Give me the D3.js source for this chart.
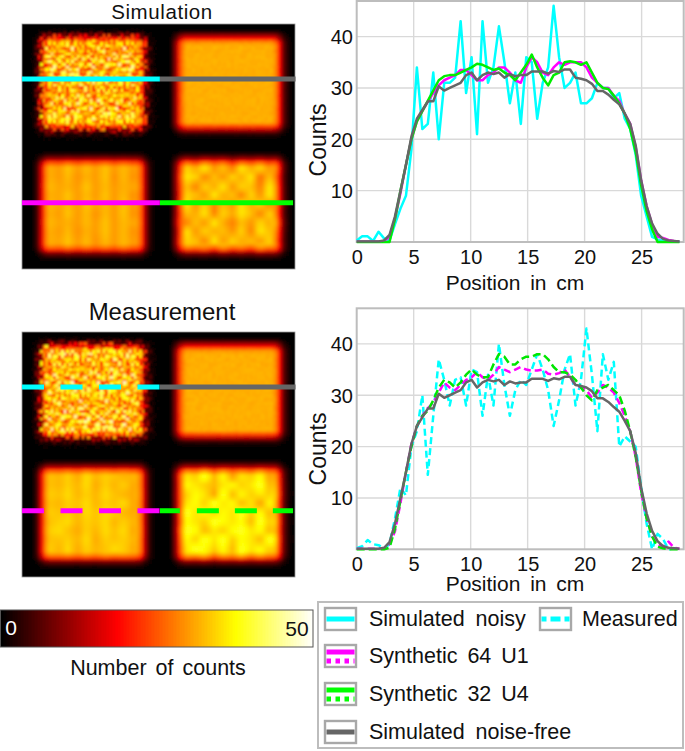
<!DOCTYPE html>
<html><head><meta charset="utf-8">
<script src="https://cdn.jsdelivr.net/npm/d3@7/dist/d3.min.js"></script>
<style>html,body{margin:0;padding:0;background:#fff}svg{display:block}text{font-family:"Liberation Sans",Arial,sans-serif;fill:#111}</style>
</head><body><svg id="c" width="685" height="751"></svg>
<script>
const positions=[0,.48,.96,1.44,1.92,2.4,2.88,3.36,3.84,4.32,
4.8,5.28,5.76,6.24,6.72,7.2,7.68,8.16,8.64,9.12,
9.6,10.08,10.56,11.04,11.52,12,12.48,12.96,13.44,13.92,
14.4,14.88,15.36,15.84,16.32,16.8,17.28,17.76,18.24,18.72,
19.2,19.68,20.16,20.64,21.12,21.6,22.08,22.56,23.04,23.52,
24,24.48,24.96,25.44,25.92,26.4,26.88,27.36,27.84,28.32];
const noiseFree=[.1,.1,.1,.1,.1,.3,1.4,5,10,15,
20.5,24,25.7,27.4,27.4,30.3,29.5,30,30.5,31,
32.5,33,31.5,32.5,33,32.7,33,32,32.7,32.3,
32.5,32.5,33.2,33.2,33.2,32.8,33.3,33.1,33.6,33.6,
32,31.8,31.5,30.8,29.4,29.4,28.7,27.7,26.8,25,
23,18.8,12,7,3.6,1.6,.6,.3,.2,.1];
const simNoisy=[.3,1.1,1.1,.2,2,.7,.3,3.5,6.5,9,
18,34,22,23,33,20,31,31,32,43,
29,36,21,43,31,34,42,35,27,33,
23,36,35,24,31,34,46,36,30,31,
33,27,27,28,31,30,30,28,29,24,
22,17,9,5,1,.5,.3,.2,.1,.1];
const simU1=[.1,.1,.1,.1,.1,.2,1,4.5,9.5,15,
20,23.5,25.5,27.3,29,30.5,31.5,32,32.5,33.5,
33.5,32.5,31.5,31.5,32.5,33,34,34,33,31.5,
31,34,36,35,33,32.5,34,35,34.5,35,
35,35,34,32,31,30,30,28.5,27.5,25,
23,18.5,12,7,3.5,1,.8,.4,.2,.1];
const simU4=[0,0,0,0,0,0,0,4.5,10,15,
20,23.5,25.5,27.5,29.5,31.5,32.3,32.5,32.5,33,
33.5,34,34.7,34.5,34,33.5,33.8,33,32.5,31.5,
33,34.5,36.5,34,32,30.5,32.5,33,35,35.2,
35,34.5,35,33,31,30,29.8,28.5,27,25,
22,17.5,11,6,2.5,0,0,0,0,0];
const measNoisy=[.2,.6,1.8,1,.8,.2,1,6,12,10.5,
20,23,30,14.5,26,37,33,28,33,33.5,
28,35,34.5,26,34,28,40,32,26,31,
33,32,35,38,35,31,24,29,35,38,
28,33,43,34,23,38,33,36.5,20,22,
21,20,12,5,0,3,2,0,.2,.1];
const measU1=[.1,.1,.1,.1,.1,.2,1,3.5,9,15,
20.5,24,26,27.5,28.5,30.5,32.5,31.5,31,32,
33,33.5,34.5,33.5,33,34,35.5,35,34.5,35,
35.5,35,34.8,34.8,35,34.2,34,34.3,35,33.5,
32,31.5,31,29.5,30.5,32,31.5,30.5,28.5,26,
23,18,11,6,2.5,1,.5,1.5,.3,.1];
const measU4=[0,0,0,0,0,0,.3,4,9.5,15,
20,24,26,27,29,31.5,33,32.5,31.5,32.5,
34,35,34,33.5,33.5,36,38,37.5,36,36,
37,37.5,37.5,38,38,37,35.5,34.5,34.5,34,
33,31.5,30,29,31,31.5,32,31,30,27,
23,18,11.5,6,2.5,.5,.2,0,0,0];
const xTicks=[0,5,10,15,20,25];
const yTicks=[10,20,30,40];
const legendLabels=["Simulated noisy","Measured","Synthetic 64 U1","Synthetic 32 U4","Simulated noise-free"];
const colorStops=[0,18.5,37.5,50];
const colorRange=["#000000","#ff0000","#ffff00","#ffffff"];
const speckle=[
"729105836417290563812947056381",
"381964205783149620857314962075",
"562738914063857291406385729140",
"904152678392016574283960157428",
"276843019526748301956274830195",
"638095172484936027518493602751",
"117462938057162849305716284930",
"849230567193405768129340576812",
"305918726640281597364028159736",
"482067351928576103892857610389",
"796314085261943827050194382705",
"023589164737210496658721049665",
"658142703996835710242683571024",
"371906852414079265837407926583",
"940273618585326109470532610947",
"215864097331680472959168047295",
"687350921442917538060291753806",
"136029475878453016928845301692",
"594718260306274985137627498513",
"802453196769130842675913084267",
"467190832525608371949560837194",
"359826074194782506310278250631",
"718034569263415927486341592748",
"240675198380963154729096315472",
"893241706552037681946203768194",
"165908347216849230578684923057",
"527386014993172405681317240568",
"034719285648520973164852097316",
"986150372401396748205396748205",
"413862957135764081396076408139"];
const texSimU1=["453736473635","464847484746","364736483736","475648474657","365847484736","475748574847","364847374836","475647484757","364736484736","465847374746","453736363735"];
const texSimU4=["463857264738","375846385746","587364758263","463758476385","376485637485","584736485736","465837586374","736485364758","384756473865","576384756473","465738463857"];
const texMeasU1=["454647564745","565748576556","465758475746","576857586547","465768576846","576758687546","467857685756","578647586847","466758476756","575847568746","455646475655"];
const texMeasU4=["465847564756","576958476846","487657867957","568749586768","478697857486","597868796857","487698785968","698576897857","586979687598","479868597867","576847685756"];
const heatPanels=[
 {box:[22,24,273,245],rows:[{level:31.5,tex:null,amp:1},{level:31.5,tex:null,amp:.003},{level:31.2,tex:texSimU1,amp:.025},{level:32,tex:texSimU4,amp:.05}]},
 {box:[22,332,273,245],rows:[{level:32,tex:null,amp:1},{level:31.5,tex:null,amp:.003},{level:32.5,tex:texMeasU1,amp:.03},{level:33,tex:texMeasU4,amp:.055}]}
];
const simBars=[{y:.2245,c:"#00ffff",k:"#666666",d:false},{y:.73,c:"#ff00ff",k:"#00ff00",d:false}];
const measBars=[{y:.2245,c:"#00ffff",k:"#666666",d:true},{y:.73,c:"#ff00ff",k:"#00ff00",d:true}];

const svg=d3.select("#c");
const defs=svg.append("defs");
function blur(id,s){defs.append("filter").attr("id",id).attr("x","-5%").attr("y","-5%").attr("width","110%").attr("height","110%").append("feGaussianBlur").attr("stdDeviation",s);}
blur("soft",.8);blur("softer",1.5);blur("lineSoft",.35);

const hot=d3.scaleLinear().domain(colorStops).range(colorRange).clamp(true);
const prof=d3.scaleLinear().domain(positions).range(noiseFree).clamp(true);
const edge=u=>Math.min(1,prof(u)/26);
const CELL=2.6;
heatPanels.forEach((hp,hi)=>{
 const [bx,by,bw,bh]=hp.box;
 const clipId="clip"+hi;
 defs.append("clipPath").attr("id",clipId).append("rect").attr("x",bx).attr("y",by).attr("width",bw).attr("height",bh);
 const wrap=svg.append("g").attr("clip-path",`url(#${clipId})`);
 wrap.append("rect").attr("x",bx).attr("y",by).attr("width",bw).attr("height",bh).attr("fill","#000");
 const xs=d3.scaleLinear().domain([0,1]).range([bx,bx+bw]);
 const ys=d3.scaleLinear().domain([0,1]).range([by,by+bh]);
 const pw=bw/2, ph=bh/2;
 hp.rows.forEach((p,pi)=>{
  const cells=[];
  const nx=Math.ceil(pw/CELL), ny=Math.ceil(ph/CELL);
  for(let j=0;j<ny;j++)for(let i=0;i<nx;i++){
   const px=(i+.5)*CELL, py=(j+.5)*CELL;
   const u=14.5+(px-70.5)/4.95, v=14.5+(py-59)/4.4;
   const env=edge(u)*edge(v);
   const r=(j+hi*13+pi*7), c=(i+hi*17+pi*11);
   const d1=+speckle[r%30][c%30], d2=+speckle[(r*7+c*3+5)%30][(c*11+r+2)%30];
   const sum=d1+d2;
   let f;
   if(p.tex){
    const tx=Math.max(0,Math.min(10.999,(u-4)/20.5*11)), ty=Math.max(0,Math.min(9.999,(v-4)/20.5*10));
    const ix=Math.floor(tx), iy=Math.floor(ty), ax=tx-ix, ay=ty-iy;
    const t=(+p.tex[iy][ix])*(1-ax)*(1-ay)+(+p.tex[iy][ix+1])*ax*(1-ay)+(+p.tex[iy+1][ix])*(1-ax)*ay+(+p.tex[iy+1][ix+1])*ax*ay;
    f=1+(t-5.5)*p.amp;
   } else f=1+(sum-9)*(p.amp===1?.052:p.amp);
   let h=1;
   if(p.amp===1&&env<.55) h=d1>6?1.6:.7;
   cells.push({x:bx+pi%2*pw+i*CELL,y:by+(pi>1?ph:0)+j*CELL,v:p.level*env*f*h});
  }
  const g=wrap.append("g").attr("filter",p.amp===1?"url(#soft)":"url(#softer)");
  g.selectAll("rect").data(cells).join("rect")
   .attr("x",d=>d.x).attr("y",d=>d.y).attr("width",CELL+.4).attr("height",CELL+.4)
   .attr("shape-rendering","crispEdges").attr("fill",d=>hot(d.v));
 });
 svg.append("rect").attr("x",bx).attr("y",by).attr("width",bw).attr("height",bh).attr("fill","none").attr("stroke","#999").attr("stroke-width",.8);
 const bars=hi===0?simBars:measBars;
 bars.forEach((b,bi)=>{
  const gb=svg.append("g");
  const yy=ys(b.y);
  const mid=xs(.505);
  gb.append("line").attr("x1",mid).attr("x2",xs(bi?0.993:1.002)).attr("y1",yy).attr("y2",yy).attr("stroke",b.k).attr("stroke-width",5)
    .attr("stroke-dasharray",b.d&&bi===1?"20 17 22 16 22 16 22":null);
  gb.append("line").attr("x1",xs(0)).attr("x2",mid).attr("y1",yy).attr("y2",yy).attr("stroke",b.c).attr("stroke-width",5)
    .attr("stroke-dasharray",b.d?"22 16.5":null);
 });
});

function plot(y0,labelC,series){
 const x=d3.scaleLinear().domain([0,28.72]).range([356.7,684]);
 const y=d3.scaleLinear().domain([0,10]).range([y0,y0-51.35]);
 const g=svg.append("g");
 const topY=y0-241;
 const grid=g.append("g").attr("filter","url(#lineSoft)");
 grid.selectAll("line.v").data(xTicks.slice(1)).join("line").attr("x1",x).attr("x2",x).attr("y1",topY).attr("y2",y0).attr("stroke","#d9d9d9").attr("stroke-width",1.4);
 grid.selectAll("line.h").data(yTicks).join("line").attr("y1",y).attr("y2",y).attr("x1",356.7).attr("x2",683).attr("stroke","#d9d9d9").attr("stroke-width",1.4);
 g.append("rect").attr("x",356.7).attr("y",topY).attr("width",327).attr("height",241).attr("fill","none").attr("stroke","#bdbdbd").attr("stroke-width",2);
 const ln=d3.line().x((d,i)=>x(positions[i])).y(d=>y(d));
 const lg=g.append("g").attr("filter","url(#lineSoft)");
 series.forEach(s=>{
  lg.append("path").datum(s.v).attr("d",ln).attr("fill","none").attr("stroke",s.c).attr("stroke-width",s.w||2.5)
   .attr("stroke-linejoin","round").attr("stroke-dasharray",s.d||null);
 });
 const ax=d3.axisBottom(x).tickValues(xTicks).tickSize(0).tickPadding(0);
 const axg=g.append("g").attr("transform",`translate(0,${y0})`).call(ax);
 axg.select(".domain").remove();
 axg.selectAll("text").attr("font-size",20).attr("dy",null).attr("y",22);
 const ay=d3.axisLeft(y).tickValues(yTicks).tickSize(0).tickPadding(0);
 const ayg=g.append("g").attr("transform","translate(353,0)").call(ay);
 ayg.select(".domain").remove();
 ayg.selectAll("text").attr("font-size",20).attr("dy","0.35em");
 g.append("text").attr("transform",`translate(326,${labelC}) rotate(-90)`).attr("text-anchor","middle").attr("font-size",23).text("Counts");
}
plot(242,140,[{v:simNoisy,c:"#00ffff"},{v:simU1,c:"#ff00ff"},{v:simU4,c:"#00ee00"},{v:noiseFree,c:"#666666"}]);
plot(549.3,449,[{v:measNoisy,c:"#00ffff",d:"7 4"},{v:measU1,c:"#ff00ff",d:"7 4"},{v:measU4,c:"#00e600",d:"8 4"},{v:noiseFree,c:"#666666"}]);

const T=(x,y,s,fs,a,ws)=>svg.append("text").attr("x",x).attr("y",y).attr("font-size",fs).attr("text-anchor",a||"start").attr("word-spacing",ws||0).text(s);
T(162,18.5,"Simulation",20.5,"middle").attr("letter-spacing",.6);
T(162,320,"Measurement",24,"middle");
T(515,290,"Position in cm",21,"middle",4);
T(515,591,"Position in cm",21,"middle",4);

const cbX=d3.scaleLinear().domain([0,50]).range([1,313]);
svg.append("g").selectAll("rect").data(d3.range(0,50,.25)).join("rect")
 .attr("x",d=>cbX(d)).attr("y",610).attr("width",d=>cbX(.25)-cbX(0)+1).attr("height",37)
 .attr("shape-rendering","crispEdges").attr("fill",d=>hot(d));
svg.append("rect").attr("x",.5).attr("y",610).attr("width",312.5).attr("height",37).attr("fill","none").attr("stroke","#555").attr("stroke-width",1);
T(11,635,"0",21,"middle").style("fill","#fff");
T(297,636,"50",21,"middle");
T(158,675,"Number of counts",21.5,"middle",3);

svg.append("rect").attr("x",318).attr("y",602).attr("width",365).attr("height",146).attr("fill","#fff").attr("stroke","#bdbdbd").attr("stroke-width",2);
const legendRows=[
 {x:325,y:608,c:"#00ffff",t:0,kind:"solid",tx:369},
 {x:540,y:608,c:"#00ffff",t:1,kind:"dash",tx:582},
 {x:325,y:645,c:"#ff00ff",t:2,kind:"dual",tx:369},
 {x:325,y:683,c:"#00ff00",t:3,kind:"dual",tx:369},
 {x:325,y:721,c:"#666666",t:4,kind:"solid",tx:369}];
legendRows.forEach(r=>{
 const g=svg.append("g");
 g.append("rect").attr("x",r.x).attr("y",r.y).attr("width",31).attr("height",22).attr("fill","#fff").attr("stroke","#a8a8a8").attr("stroke-width",2.4);
 const lx1=r.x+1.5,lx2=r.x+29.5;
 if(r.kind==="solid"||r.kind==="dash"){
  g.append("line").attr("x1",lx1).attr("x2",lx2).attr("y1",r.y+11).attr("y2",r.y+11).attr("stroke",r.c).attr("stroke-width",5).attr("stroke-dasharray",r.kind==="dash"?"5 4 10 4 5":null);
 } else {
  g.append("line").attr("x1",lx1).attr("x2",lx2).attr("y1",r.y+7).attr("y2",r.y+7).attr("stroke",r.c).attr("stroke-width",5);
  g.append("line").attr("x1",lx1).attr("x2",lx2).attr("y1",r.y+16).attr("y2",r.y+16).attr("stroke",r.c).attr("stroke-width",5).attr("stroke-dasharray","4.5 4.5");
 }
 T(r.tx,r.y+18,legendLabels[r.t],21.5,"start",r.t===2||r.t===3?4:5);
});
</script></body></html>
